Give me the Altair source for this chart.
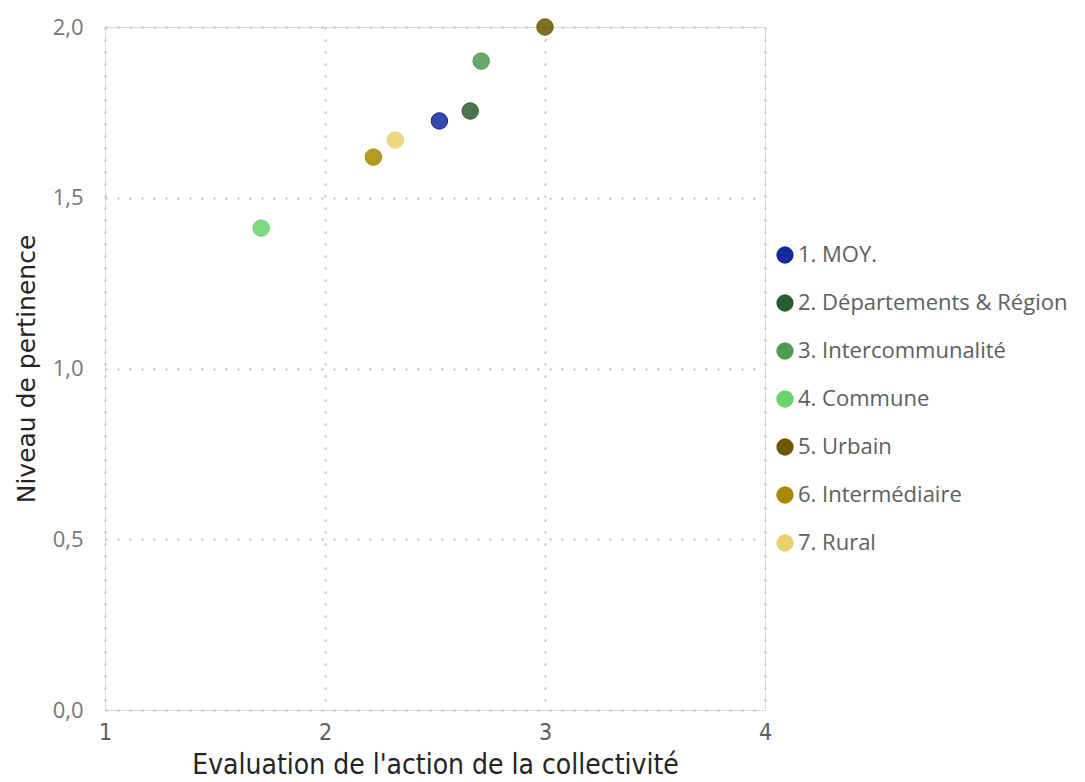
import altair as alt
import pandas as pd

categories = ["1. MOY.", "2. Départements & Région", "3. Intercommunalité", "4. Commune",
              "5. Urbain", "6. Intermédiaire", "7. Rural"]
evaluation = [2.52, 2.66, 2.71, 1.71, 3.00, 2.22, 2.32]
pertinence = [1.725, 1.754, 1.90, 1.411, 2.00, 1.619, 1.669]
colors = ["#13299D", "#2B5E2E", "#4E9A52", "#66D36B", "#6B5800", "#A68A00", "#E8D16A"]

df = pd.DataFrame({"cat": categories, "x": evaluation, "y": pertinence})

grid = dict(gridColor="#BDBDBD", gridDash=[2, 10], gridWidth=2)

chart = alt.Chart(df).mark_circle(size=270, fillOpacity=0.85, strokeWidth=1, strokeOpacity=1, clip=False).encode(
    x=alt.X("x:Q", scale=alt.Scale(domain=[1, 4], nice=False, zero=False),
            axis=alt.Axis(title="Evaluation de l'action de la collectivité", values=[1, 2, 3, 4],
                          format="d", domain=False, ticks=False, labelFont="DejaVu Sans Condensed",
                          labelFontSize=23, labelColor="#605E5C", labelPadding=11,
                          titleFont="DejaVu Sans Condensed", titleFontSize=28, titleFontWeight="normal",
                          titleColor="#252423", titlePadding=7, labelFlush=False, **grid)),
    y=alt.Y("y:Q", scale=alt.Scale(domain=[0, 2], nice=False),
            axis=alt.Axis(title="Niveau de pertinence", values=[0, 0.5, 1, 1.5, 2],
                          labelExpr="replace(format(datum.value, '.1f'), '.', ',')",
                          domain=False, ticks=False, labelFont="Open Sans",
                          labelFontSize=22, labelColor="#777777", labelPadding=22,
                          titleFont="DejaVu Sans", titleFontSize=25, titleFontWeight="normal",
                          titleColor="#252423", titlePadding=13, **grid)),
    color=alt.Color("cat:N", scale=alt.Scale(domain=categories, range=colors),
                    legend=alt.Legend(title=None, orient="none", legendX=669, legendY=217,
                                      symbolType="circle", symbolSize=300, symbolOpacity=1,
                                      symbolStrokeWidth=0, labelFont="Open Sans",
                                      labelFontSize=22, labelColor="#605E5C", rowPadding=26,
                                      labelOffset=2, labelLimit=400)),
    stroke=alt.Stroke("cat:N", scale=alt.Scale(domain=categories, range=colors), legend=None),
).properties(
    width=660, height=683,
    padding={"left": 97, "top": 19, "right": 312, "bottom": 74},
    autosize=alt.AutoSizeParams(type="none"),
).configure_view(stroke=None).configure(background="white")

chart.save("out.html", embed_options={"renderer": "svg", "actions": False})
